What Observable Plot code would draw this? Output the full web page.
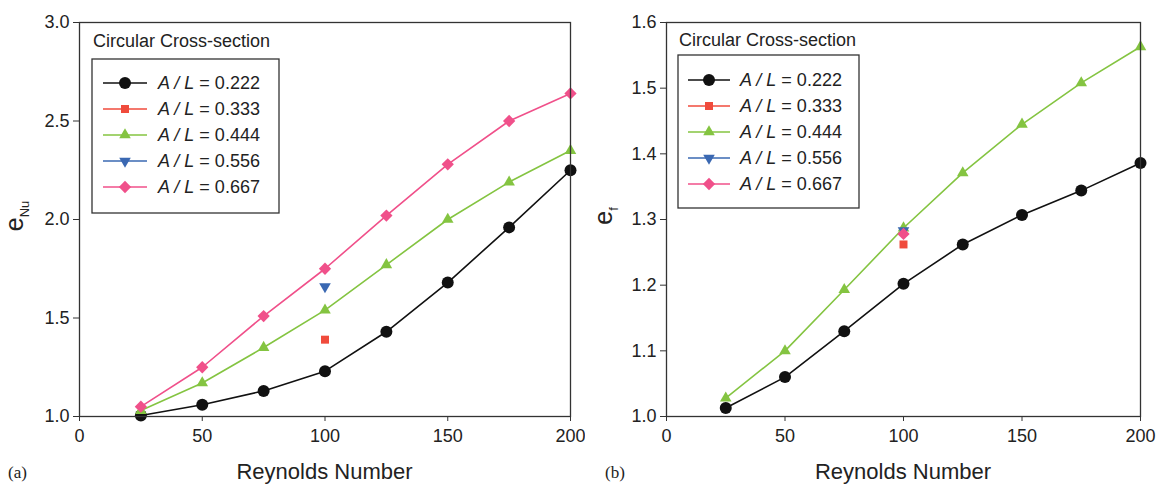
<!DOCTYPE html>
<html><head><meta charset="utf-8">
<script src="https://cdn.jsdelivr.net/npm/d3@7"></script>
<script src="https://cdn.jsdelivr.net/npm/@observablehq/plot@0.6"></script>
<style>
body{margin:0;background:#fff;}
#wrap{display:flex;width:1158px;height:484px;background:#fff;}
</style>
</head><body><div id="wrap"></div>
<script>
// ---------- data ----------
const reynolds = [25, 50, 75, 100, 125, 150, 175, 200];
const xTicks = [0, 50, 100, 150, 200];
const ratios = ["0.222", "0.333", "0.444", "0.556", "0.667"];
const colors = ["#111111", "#f04b3c", "#84c441", "#3a68b2", "#f0508a"];

// (a) e_Nu
const eNu_222 = [1.005, 1.06, 1.13, 1.23, 1.43, 1.68, 1.96, 2.25];
const eNu_333 = [null, null, null, 1.39, null, null, null, null];
const eNu_444 = [1.03, 1.17, 1.35, 1.54, 1.77, 2.00, 2.19, 2.35];
const eNu_556 = [null, null, null, 1.66, null, null, null, null];
const eNu_667 = [1.05, 1.25, 1.51, 1.75, 2.02, 2.28, 2.50, 2.64];
const eNuTicks = [1.0, 1.5, 2.0, 2.5, 3.0];

// (b) e_f
const ef_222 = [1.013, 1.06, 1.13, 1.202, 1.262, 1.307, 1.344, 1.386];
const ef_333 = [null, null, null, 1.262, null, null, null, null];
const ef_444 = [1.028, 1.10, 1.193, 1.287, 1.371, 1.445, 1.508, 1.563];
const ef_556 = [null, null, null, 1.283, null, null, null, null];
const ef_667 = [null, null, null, 1.278, null, null, null, null];
const efTicks = [1.0, 1.1, 1.2, 1.3, 1.4, 1.5, 1.6];

// ---------- styling per series ----------
const symbols = [
  {symbol: "circle", rotate: 0, r: 6},
  {symbol: "square", rotate: 0, r: 4.5},
  {symbol: "triangle", rotate: 0, r: 4.3},
  {symbol: "triangle", rotate: 180, r: 4.3},
  {symbol: "square", rotate: 45, r: 4.9}
];
const FONT = "'Liberation Sans', Arial, sans-serif";

function makeRows(values, i) {
  return reynolds.map((re, k) => ({re, v: values[k], ratio: ratios[i]})).filter(d => d.v != null);
}

function panel(cfg) {
  const {width, marginLeft, marginRight, yDomain, yTicks, seriesValues} = cfg;
  const marginTop = 22, marginBottom = 68, height = 484;
  const marks = [
    Plot.axisX({ticks: xTicks, tickSize: 5, tickPadding: 8, fontSize: 18, label: null, stroke: "#333"}),
    Plot.axisY({ticks: yTicks, tickSize: 6, tickPadding: 4, fontSize: 18, label: null, tickFormat: d3.format(".1f"), stroke: "#333"}),
  ];
  seriesValues.forEach((vals, i) => {
    const rows = makeRows(vals, i);
    if (rows.length > 1) marks.push(Plot.line(rows, {x: "re", y: "v", stroke: colors[i], strokeWidth: 1.6}));
  });
  seriesValues.forEach((vals, i) => {
    const rows = makeRows(vals, i);
    const s = symbols[i];
    marks.push(Plot.dot(rows, {x: "re", y: "v", symbol: s.symbol, rotate: s.rotate, r: s.r, fill: colors[i], stroke: "none"}));
  });
  marks.push(Plot.frame({stroke: "#333", strokeWidth: 1.3}));

  const chart = Plot.plot({
    width, height, marginLeft, marginRight, marginTop, marginBottom,
    style: {fontFamily: FONT, background: "white", color: "#222", overflow: "visible"},
    x: {domain: [0, 200]},
    y: {domain: yDomain},
    marks
  });

  const svg = d3.select(chart);
  const fl = marginLeft, ft = marginTop, fr = width - marginRight;
  const g = svg.append("g").attr("font-family", FONT).attr("fill", "#222").attr("text-anchor", "start");

  // x label
  g.append("text").attr("x", (fl + fr) / 2).attr("y", 479).attr("text-anchor", "middle")
    .attr("font-size", 22).text("Reynolds Number");
  // panel tag
  g.append("text").attr("x", cfg.tagX).attr("y", 478).attr("font-family", "'Liberation Serif', 'Times New Roman', serif")
    .attr("font-size", 17).text(cfg.tag);
  // y label with subscript
  const yl = g.append("text").attr("transform", `translate(${cfg.yLabelX},216) rotate(-90)`).attr("text-anchor", "middle");
  yl.append("tspan").attr("font-size", 25).text("e");
  yl.append("tspan").attr("font-size", 13).attr("dy", 6).text(cfg.ySub);

  // legend
  const L = cfg.legend;
  g.append("text").attr("x", fl + L.titleX).attr("y", ft + L.titleY).attr("font-size", 18).text("Circular Cross-section");
  g.append("rect").attr("x", fl + L.boxX).attr("y", ft + L.boxY).attr("width", L.boxW).attr("height", L.boxH)
    .attr("fill", "none").attr("stroke", "#333").attr("stroke-width", 1.3);
  ratios.forEach((ratio, i) => {
    const y = ft + L.firstY + i * L.step;
    g.append("line").attr("x1", fl + L.lineX1).attr("x2", fl + L.lineX2).attr("y1", y).attr("y2", y)
      .attr("stroke", colors[i]).attr("stroke-width", 1.6);
    const s = symbols[i];
    const symType = s.symbol === "circle" ? d3.symbolCircle : s.symbol === "square" ? d3.symbolSquare : d3.symbolTriangle;
    g.append("path").attr("d", d3.symbol(symType, Math.PI * s.r * s.r)())
      .attr("transform", `translate(${fl + (L.lineX1 + L.lineX2) / 2},${y}) rotate(${s.rotate})`)
      .attr("fill", colors[i]);
    const t = g.append("text").attr("x", fl + L.textX).attr("y", y).attr("dy", "0.36em").attr("font-size", 18);
    t.append("tspan").attr("font-style", "italic").text("A / L");
    t.append("tspan").text(" = " + ratio);
  });
  return chart;
}

const wrap = document.getElementById("wrap");
wrap.appendChild(panel({
  width: 585, marginLeft: 79, marginRight: 15,
  yDomain: [1, 3], yTicks: eNuTicks,
  seriesValues: [eNu_222, eNu_333, eNu_444, eNu_556, eNu_667],
  ySub: "Nu", yLabelX: 23, tag: "(a)", tagX: 8,
  legend: {titleX: 14, titleY: 25, boxX: 13, boxY: 37, boxW: 187, boxH: 154, firstY: 61, step: 26, lineX1: 24, lineX2: 68, textX: 79}
}));
wrap.appendChild(panel({
  width: 573, marginLeft: 81, marginRight: 18,
  yDomain: [1, 1.6], yTicks: efTicks,
  seriesValues: [ef_222, ef_333, ef_444, ef_556, ef_667],
  ySub: "f", yLabelX: 27, tag: "(b)", tagX: 20,
  legend: {titleX: 13, titleY: 24, boxX: 12, boxY: 33, boxW: 181, boxH: 153, firstY: 58, step: 26, lineX1: 22, lineX2: 64, textX: 74}
}));
</script>
</body></html>
